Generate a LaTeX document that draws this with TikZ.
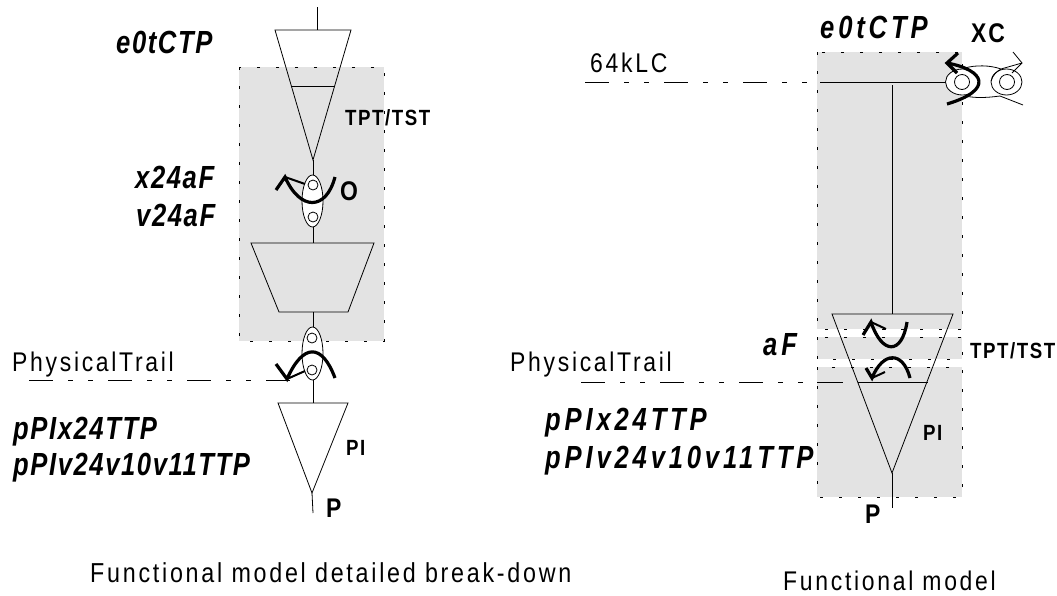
\documentclass[tikz,border=0pt]{standalone}
\usepackage{fontspec}
\usepackage{tikz}
\setmainfont{Liberation Sans}
\newfontfamily\plainfont[LetterSpace=10,FakeStretch=0.85]{Liberation Sans}
\newfontfamily\tightfont[LetterSpace=5,FakeStretch=0.8]{Liberation Sans}
\newfontfamily\widefont[LetterSpace=12,FakeStretch=0.8]{Liberation Sans}
\newfontfamily\smallfont[LetterSpace=7,FakeStretch=0.85]{Liberation Sans}
\definecolor{boxgray}{gray}{0.89}
\tikzset{
  x=1pt,y=-1pt,
  wire/.style={draw=black,line width=0.8pt},
  grayzone/.style={fill=boxgray,draw=black,line width=0.8pt,dash pattern=on 3pt off 16pt},
  trailline/.style={draw=black,line width=0.8pt,dash pattern=on 24pt off 15pt on 5pt off 15pt on 5pt off 15pt},
  swing/.style={draw=black,line width=3.2pt,line join=miter},
  swingtail/.style={draw=black,line width=2pt},
  plainlabel/.style={inner sep=0pt,anchor=base west,font=\fontsize{27}{27}\selectfont\plainfont},
  itlabel/.style={inner sep=0pt,anchor=base west,font=\fontsize{32}{32}\selectfont\tightfont\bfseries\itshape},
  widelabel/.style={inner sep=0pt,anchor=base west,font=\fontsize{32}{32}\selectfont\widefont\bfseries\itshape},
  boldlabel/.style={inner sep=0pt,anchor=base west,font=\fontsize{22}{22}\selectfont\smallfont\bfseries},
  letterlabel/.style={inner sep=0pt,anchor=base west,font=\fontsize{27}{27}\selectfont\smallfont\bfseries}
}
\begin{document}
\begin{tikzpicture}
  % Boundary
  \path[use as bounding box] (0,0) rectangle (1057,595);
  % Gray zones
  \path[grayzone] (239,67) rectangle (384,341);
  \path[grayzone] (817,52) rectangle (962,329);
  \path[grayzone] (817,337) rectangle (962,359);
  \path[grayzone] (817,367) rectangle (962,497);
  % Left chain
  \coordinate (topend) at (317,7);
  \coordinate (toptop) at (317,30);
  \coordinate (topapex) at (313,160);
  \draw[wire] (topend) -- (toptop);
  \draw[wire] (275,30) -- (351,30) -- (topapex) -- cycle;
  \draw[wire] (291,86) -- (335,86);
  \draw[wire] (topapex) -- (313,175);
  \draw[wire,fill=white] (312.5,201) ellipse (10.5 and 26);
  \draw[wire,fill=white] (313,185) circle (5);
  \draw[wire,fill=white] (313,217) circle (5);
  \draw[wire] (313,227) -- (313,243);
  \draw[wire] (251,243) -- (374,243) -- (348,312) -- (279,312) -- cycle;
  \draw[wire] (313,312) -- (313,327);
  \draw[wire,fill=white] (312.5,353.5) ellipse (10.5 and 26.5);
  \draw[wire,fill=white] (312,338) circle (5);
  \draw[wire,fill=white] (312,370) circle (5);
  \draw[wire] (313,380) -- (313,403);
  \draw[wire] (278,403) -- (348,403) -- (312,493) -- cycle;
  \draw[wire] (312,493) -- (313,513);
  % Left swings
  \draw[swing] (335,177) .. controls (326,211) and (300,211) .. (285,177) -- (276,190);
  \draw[swingtail] (285,177) -- (305,184);
  \draw[swing] (335,378) .. controls (322,343) and (303,343) .. (287,379) -- (276,364);
  \draw[swingtail] (287,379) -- (305,371);
  % Right chain
  \coordinate (rightjoin) at (892,85);
  \draw[wire] (rightjoin) -- (892,314);
  \draw[wire] (832,314) -- (953,314) -- (892,473) -- cycle;
  \draw[wire] (858,382) -- (928,382);
  \draw[wire] (892,473) -- (892,508);
  % Right swings
  \draw[swing] (907,322) .. controls (902,355) and (882,355) .. (871,322) -- (863,335);
  \draw[swingtail] (871,322) -- (886,329);
  \draw[swing] (910,378) .. controls (903,351) and (883,351) .. (872,378) -- (866,368);
  \draw[swingtail] (872,378) -- (885,372);
  % Trails
  \draw[trailline] (29,380) -- (290,380);
  \draw[trailline] (585,82) -- (817,82);
  \draw[wire] (820,82) -- (946,82);
  \draw[trailline] (581,382) -- (817,382);
  \draw[wire] (817,382) -- (843,382);
  % Cross connect
  \draw[wire,fill=white] (962.5,82) ellipse (17 and 13);
  \draw[wire,fill=white] (962,82) circle (7.5);
  \draw[wire,fill=white] (1006.5,82) ellipse (15.5 and 13);
  \draw[wire,fill=white] (1007,82) circle (7.5);
  \draw[wire] (965,68) .. controls (975,65) and (990,65) .. (1001,69);
  \draw[wire] (965,96) .. controls (975,98) and (985,98) .. (1000,96) -- (1023,105);
  \draw[wire] (1013,52) -- (1022,63) -- (1012,73);
  \draw[wire] (1022,63) -- (1001,69) .. controls (996,72) and (993,75) .. (991,81);
  \draw[swing] (958,53) -- (947,63) -- (957,73);
  \draw[swing] (947,63) .. controls (985,70) and (994,90) .. (947,104);
  % Left labels
  \node[itlabel] (leftctp) at (116,53) {e0tCTP};
  \node[itlabel] (leftx) at (135,188) {x24aF};
  \node[itlabel] (leftv) at (136,226) {v24aF};
  \node[plainlabel] (lefttrail) at (12,371) {PhysicalTrail};
  \node[itlabel] (leftpx) at (13,439) {pPIx24TTP};
  \node[itlabel] (leftpv) at (13,475) {pPIv24v10v11TTP};
  \node[boldlabel] (lefttpt) at (345,125) {TPT/TST};
  \node[letterlabel] (lefto) at (340,200) {O};
  \node[boldlabel] (leftpi) at (346,455) {PI};
  \node[letterlabel] (leftp) at (326,517) {P};
  \node[plainlabel,font=\fontsize{27.4}{27.4}\selectfont\plainfont] (leftcap) at (90,582) {Functional model detailed break-down};
  % Right labels
  \node[widelabel] (rightctp) at (820,38) {e0tCTP};
  \node[letterlabel] (rightxc) at (971,42) {XC};
  \node[plainlabel] (right64) at (590,72) {64kLC};
  \node[widelabel] (rightaf) at (763,355) {aF};
  \node[boldlabel] (righttpt) at (970,358) {TPT/TST};
  \node[plainlabel] (righttrail) at (510,371) {PhysicalTrail};
  \node[widelabel] (rightpx) at (545,430) {pPIx24TTP};
  \node[widelabel] (rightpv) at (545,468) {pPIv24v10v11TTP};
  \node[boldlabel] (rightpi) at (923,440) {PI};
  \node[letterlabel] (rightp) at (865,523) {P};
  \node[plainlabel] (rightcap) at (783,590) {Functional model};
\end{tikzpicture}
\end{document}
